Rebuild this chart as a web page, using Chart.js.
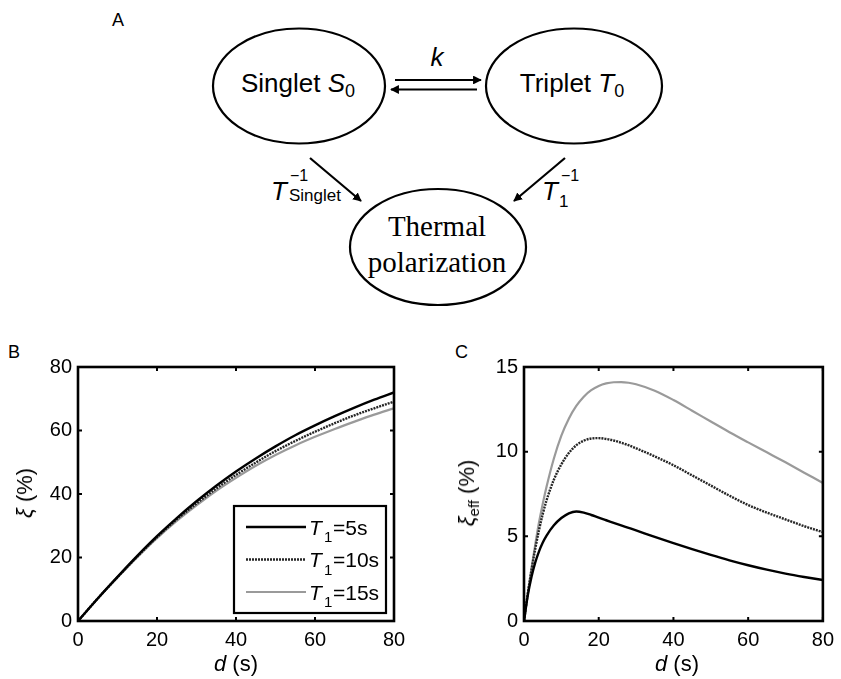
<!DOCTYPE html>
<html>
<head>
<meta charset="utf-8">
<script src="https://cdn.jsdelivr.net/npm/chart.js@4.4.0/dist/chart.umd.min.js"></script>
<style>
  html, body { margin: 0; padding: 0; background: #fff; }
  #page { position: relative; width: 841px; height: 679px; overflow: hidden;
          font-family: 'Liberation Sans', Arial, sans-serif; color: #000; }
  .panel { position: absolute; }
  .lbl { position: absolute; white-space: nowrap; line-height: 1; }
  .ctr { transform: translate(-50%, -50%); }
  .rot { transform: translate(-50%, -50%) rotate(-90deg); }
  .sub { font-size: 15px; position: relative; top: 5px; }
</style>
</head>
<body>
<div id="page">
  <!-- panel A: the scheme -->
  <svg width="841" height="335" style="position:absolute;left:0;top:0"
       font-family="'Liberation Sans', Arial, sans-serif">
    <defs>
      <marker id="ah" viewBox="0 0 10 10" refX="9" refY="5" markerWidth="4" markerHeight="4" orient="auto">
        <path d="M0,0 L10,5 L0,10 z" fill="#000"/>
      </marker>
    </defs>
    <g fill="none" stroke="#000" stroke-width="2.2">
      <ellipse cx="299" cy="86" rx="86" ry="57.5"/>
      <ellipse cx="574" cy="86" rx="88" ry="57.5"/>
      <ellipse cx="438" cy="247" rx="88" ry="58"/>
      <line x1="395" y1="80" x2="481" y2="80" marker-end="url(#ah)"/>
      <line x1="477" y1="89.5" x2="391" y2="89.5" marker-end="url(#ah)"/>
      <line x1="310" y1="158" x2="361" y2="201" marker-end="url(#ah)"/>
      <line x1="565" y1="158" x2="514" y2="201" marker-end="url(#ah)"/>
    </g>
    <text x="298" y="92" font-size="26" text-anchor="middle">Singlet <tspan font-style="italic">S</tspan><tspan font-size="18" dy="5">0</tspan></text>
    <text x="572" y="92" font-size="26" text-anchor="middle">Triplet <tspan font-style="italic">T</tspan><tspan font-size="18" dy="5">0</tspan></text>
    <text x="437" y="66" font-size="26" font-style="italic" text-anchor="middle">k</text>
    <text x="271" y="200" font-size="26" font-style="italic">T</text>
    <text x="290" y="181" font-size="16">−1</text>
    <text x="289" y="201" font-size="17">Singlet</text>
    <text x="542" y="200" font-size="26" font-style="italic">T</text>
    <text x="559" y="207" font-size="17">1</text>
    <text x="561" y="181" font-size="16">−1</text>
    <text x="437" y="236" font-size="29" text-anchor="middle" font-family="'Liberation Serif', 'Times New Roman', serif">Thermal</text>
    <text x="437" y="272" font-size="29" text-anchor="middle" font-family="'Liberation Serif', 'Times New Roman', serif">polarization</text>
  </svg>
  <div class="lbl" style="left:112px;top:11px;font-size:18px">A</div>

  <!-- panel B -->
  <div class="lbl" style="left:8px;top:343px;font-size:18px">B</div>
  <div class="panel" style="left:0;top:330px;width:420px;height:349px"><canvas id="chartB"></canvas></div>
  <div class="lbl rot" style="left:25px;top:493px;font-size:22px"><i>ξ</i> (%)</div>
  <div class="lbl ctr" style="left:236px;top:664px;font-size:22px"><i>d</i> (s)</div>

  <!-- panel C -->
  <div class="lbl" style="left:455px;top:343px;font-size:18px">C</div>
  <div class="panel" style="left:420px;top:330px;width:421px;height:349px"><canvas id="chartC"></canvas></div>
  <div class="lbl rot" style="left:467px;top:493px;font-size:22px"><i>ξ</i><span class="sub">eff</span> (%)</div>
  <div class="lbl ctr" style="left:677px;top:664px;font-size:22px"><i>d</i> (s)</div>
</div>

<script>
// delay d (s) for panel B and the polarization xi (%) for each T1
const dB = [0, 5, 10, 15, 20, 25, 30, 35, 40, 45, 50, 55, 60, 65, 70, 75, 80];
const xiT5 = [0, 7.1, 13.9, 20.5, 26.7, 32.4, 37.7, 42.6, 47.1, 51.2, 55.0, 58.5, 61.6, 64.5, 67.2, 69.7, 72.0];
const xiT10 = [0, 7.1, 13.8, 20.3, 26.4, 32.0, 37.0, 41.7, 46.0, 49.9, 53.5, 56.7, 59.6, 62.3, 64.8, 67.0, 69.1];
const xiT15 = [0, 7.1, 13.7, 20.1, 26.1, 31.5, 36.4, 41.0, 45.1, 48.9, 52.3, 55.3, 58.0, 60.5, 62.8, 65.0, 67.0];

// delay d (s) for panel C and the effective polarization xi_eff (%)
const dC = [0, 1, 2, 3, 4, 5, 6, 8, 10, 12, 14, 16, 18, 20, 22, 24, 26, 28, 30, 35, 40, 45, 50, 55, 60, 65, 70, 75, 80];
const effT5 = [0, 1.5, 2.6, 3.45, 4.1, 4.62, 5.03, 5.65, 6.08, 6.36, 6.47, 6.4, 6.26, 6.1, 5.95, 5.8, 5.65, 5.5, 5.35, 4.97, 4.6, 4.24, 3.9, 3.58, 3.29, 3.03, 2.8, 2.6, 2.42];
const effT10 = [0, 1.6, 3.0, 4.25, 5.35, 6.3, 7.1, 8.35, 9.25, 9.92, 10.38, 10.65, 10.78, 10.8, 10.75, 10.66, 10.53, 10.38, 10.2, 9.72, 9.2, 8.6, 8.0, 7.4, 6.85, 6.4, 6.0, 5.6, 5.25];
const effT15 = [0, 1.6, 3.1, 4.5, 5.8, 6.9, 7.9, 9.6, 10.95, 11.95, 12.7, 13.25, 13.63, 13.88, 14.03, 14.1, 14.11, 14.07, 13.98, 13.6, 13.05, 12.42, 11.78, 11.15, 10.55, 9.96, 9.37, 8.76, 8.15];

const seriesLabels = ['5s', '10s', '15s'];
const xTicks = [0, 20, 40, 60, 80];

const FONT = "'Liberation Sans', Arial, sans-serif";

function points(xs, ys) {
  return xs.map((x, i) => ({x: x, y: ys[i]}));
}

function makeDatasets(xs, a, b, c) {
  const common = {pointRadius: 0, fill: false, cubicInterpolationMode: 'monotone'};
  return [
    Object.assign({label: seriesLabels[0], data: points(xs, a), borderColor: '#000', borderWidth: 2.4}, common),
    Object.assign({label: seriesLabels[1], data: points(xs, b), borderColor: '#262626', borderWidth: 2.4, borderDash: [2, 1]}, common),
    Object.assign({label: seriesLabels[2], data: points(xs, c), borderColor: '#9a9a9a', borderWidth: 2.2}, common)
  ];
}

// box round the plot with small inward ticks on every side
const matlabFrame = {
  id: 'matlabFrame',
  afterDatasetsDraw(chart) {
    const ctx = chart.ctx, a = chart.chartArea, sx = chart.scales.x, sy = chart.scales.y;
    const len = 4;
    ctx.save();
    ctx.strokeStyle = '#000';
    ctx.lineWidth = 2;
    ctx.beginPath();
    sx.ticks.forEach(t => {
      const p = sx.getPixelForValue(t.value);
      ctx.moveTo(p, a.bottom); ctx.lineTo(p, a.bottom - len);
      ctx.moveTo(p, a.top); ctx.lineTo(p, a.top + len);
    });
    sy.ticks.forEach(t => {
      const p = sy.getPixelForValue(t.value);
      ctx.moveTo(a.left, p); ctx.lineTo(a.left + len, p);
      ctx.moveTo(a.right, p); ctx.lineTo(a.right - len, p);
    });
    ctx.stroke();
    ctx.lineWidth = 2.6;
    ctx.strokeRect(a.left, a.top, a.right - a.left, a.bottom - a.top);
    ctx.restore();
  }
};

// legend box with T1 subscripts, drawn inside the plot (panel B only)
const t1Legend = {
  id: 't1Legend',
  afterDraw(chart) {
    const ctx = chart.ctx, a = chart.chartArea;
    const w = 152, h = 107;
    const x0 = a.right - 8 - w, y0 = a.bottom - 8 - h;
    ctx.save();
    ctx.fillStyle = '#fff';
    ctx.fillRect(x0, y0, w, h);
    ctx.strokeStyle = '#000';
    ctx.lineWidth = 2.2;
    ctx.strokeRect(x0, y0, w, h);
    chart.data.datasets.forEach((ds, i) => {
      const y = y0 + 21 + i * 32.5;
      ctx.setLineDash(ds.borderDash || []);
      ctx.strokeStyle = ds.borderColor;
      ctx.lineWidth = ds.borderWidth;
      ctx.beginPath();
      ctx.moveTo(x0 + 12, y);
      ctx.lineTo(x0 + 72, y);
      ctx.stroke();
      ctx.setLineDash([]);
      ctx.fillStyle = '#000';
      ctx.textBaseline = 'alphabetic';
      ctx.font = 'italic 21px ' + FONT;
      ctx.fillText('T', x0 + 75, y + 7.5);
      ctx.font = '15px ' + FONT;
      ctx.fillText('1', x0 + 90, y + 15);
      ctx.font = '21px ' + FONT;
      ctx.fillText('=' + ds.label, x0 + 99, y + 7.5);
    });
    ctx.restore();
  }
};

function makeChart(id, datasets, yMax, yStep, yAxisWidth, padRight, withLegend) {
  const tickFont = {family: FONT, size: 20};
  return new Chart(document.getElementById(id).getContext('2d'), {
    type: 'line',
    data: {datasets: datasets},
    options: {
      responsive: true,
      maintainAspectRatio: false,
      animation: false,
      layout: {padding: {left: 0, top: 37, right: padRight, bottom: 28}},
      scales: {
        x: {
          type: 'linear', min: 0, max: 80,
          afterBuildTicks: axis => { axis.ticks = xTicks.map(v => ({value: v})); },
          afterFit: axis => { axis.height = 30; },
          grid: {display: false, drawTicks: false},
          border: {display: false},
          ticks: {color: '#000', font: tickFont, padding: 7, maxRotation: 0}
        },
        y: {
          min: 0, max: yMax,
          afterFit: axis => { axis.width = yAxisWidth; },
          grid: {display: false, drawTicks: false},
          border: {display: false},
          ticks: {color: '#000', font: tickFont, padding: 6, stepSize: yStep}
        }
      },
      plugins: {legend: {display: false}, tooltip: {enabled: false}}
    },
    plugins: withLegend ? [matlabFrame, t1Legend] : [matlabFrame]
  });
}

makeChart('chartB', makeDatasets(dB, xiT5, xiT10, xiT15), 80, 20, 78, 26, true);
makeChart('chartC', makeDatasets(dC, effT5, effT10, effT15), 15, 5, 104, 13, false);
</script>
</body>
</html>
